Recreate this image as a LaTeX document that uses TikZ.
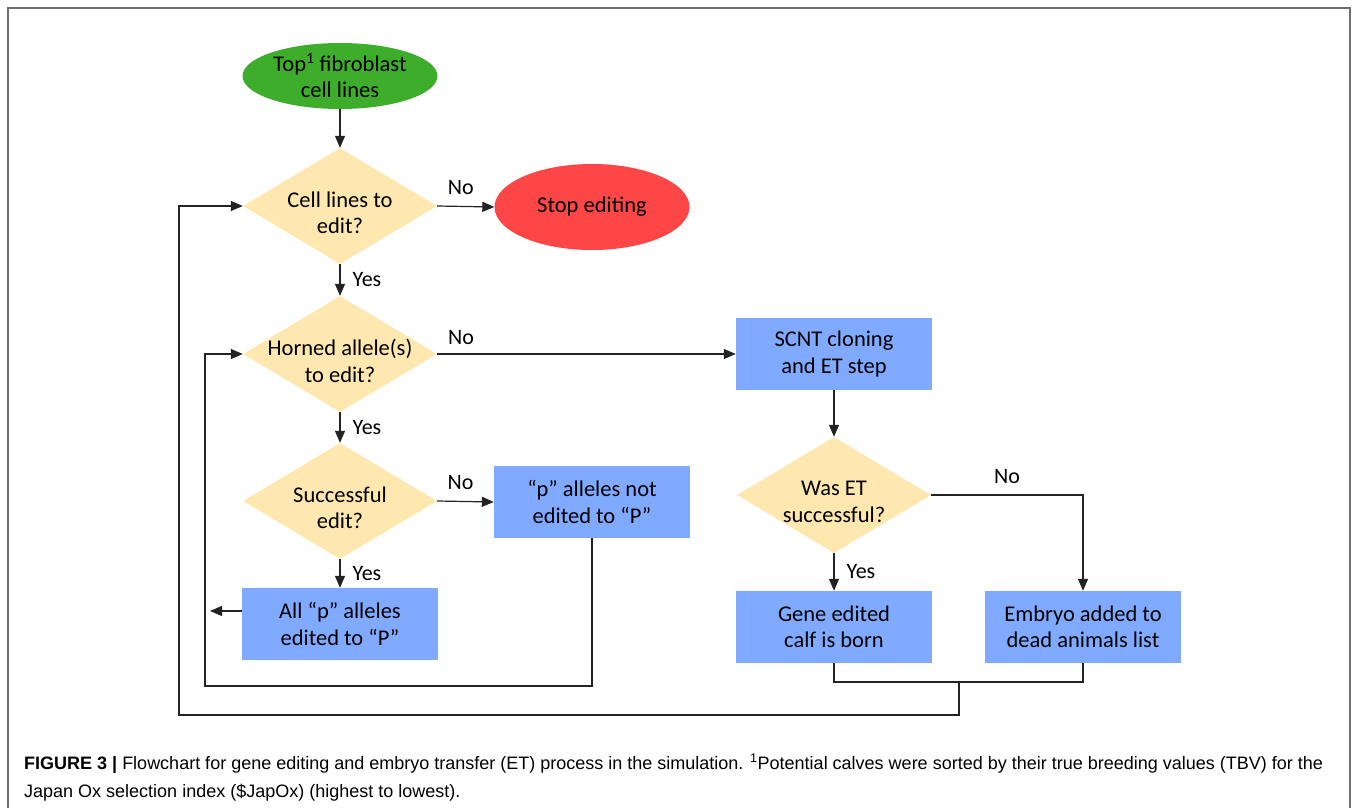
\documentclass[tikz,border=0pt]{standalone}
\usepackage{fontspec}
\setmainfont{Carlito}
\newfontfamily\capfont{Liberation Sans}
\usetikzlibrary{shapes.geometric,arrows.meta}
\definecolor{startgreen}{RGB}{62,173,44}
\definecolor{stopred}{RGB}{255,70,70}
\definecolor{decyellow}{RGB}{255,232,175}
\definecolor{procblue}{RGB}{128,170,255}
\definecolor{linegray}{RGB}{35,35,35}
\definecolor{framegray}{RGB}{110,110,110}
\begin{document}
\begin{tikzpicture}[x=1pt,y=-1pt,
  every node/.style={font=\fontsize{22.5}{26.5}\selectfont},
  term/.style={ellipse, minimum width=195pt, inner sep=0pt, align=center},
  decision/.style={diamond, fill=decyellow, minimum width=194pt, minimum height=116pt, inner sep=0pt},
  dtext/.style={align=center, inner sep=0pt},
  proc/.style={rectangle, fill=procblue, minimum width=196pt, minimum height=72pt, inner sep=0pt, align=center},
  conn/.style={draw=linegray, line width=1.2pt},
  arr/.style={conn, -{Triangle[length=12pt,width=10pt]}},
  lbl/.style={font=\fontsize{22}{26}\selectfont, inner sep=2pt},
  capt/.style={font=\capfont\fontsize{18}{20}\selectfont, inner sep=0pt, anchor=base west}
]
\useasboundingbox (0,0) rectangle (1357,808);
\draw[framegray, line width=1.2pt] (8,808) -- (8,8) -- (1350,8) -- (1350,808);

% nodes
\node[term, fill=startgreen, minimum height=66pt] (start) at (340,76) {Top\textsuperscript{1} fibroblast\\cell lines};
\node[decision] (d1) at (340,206) {};
\node[dtext] (t1) at (340,213) {Cell lines to\\edit?};
\node[term, fill=stopred, minimum height=86pt] (stop) at (592,207) {Stop editing};
\node[decision] (d2) at (340,354) {};
\node[dtext] (t2) at (340,361) {Horned allele(s)\\to edit?};
\node[decision] (d3) at (340,501) {};
\node[dtext] (t3) at (340,508) {Successful\\edit?};
\node[proc] (pnot) at (592,502) {“p” alleles not\\edited to “P”};
\node[proc] (all) at (340,624) {All “p” alleles\\edited to “P”};
\node[proc] (scnt) at (834,354) {SCNT cloning\\and ET step};
\node[decision] (d4) at (834,495) {};
\node[dtext] (t4) at (834,502) {Was ET\\successful?};
\node[proc] (gene) at (834,627) {Gene edited\\calf is born};
\node[proc] (emb) at (1083,627) {Embryo added to\\dead animals list};

% helper coordinates
\coordinate (jg) at (834,682);
\coordinate (je) at (1083,682);
\coordinate (jm) at (959,682);
\coordinate (c1) at (959,715);
\coordinate (c2) at (179,715);
\coordinate (l2) at (205,686);
\coordinate (aend) at (210,611);
\coordinate (astart) at (242,611);

% connectors
\draw[arr] (start) -- (d1);
\draw[arr] (d1.east) -- node[lbl, above=9pt, xshift=-5pt]{No} (stop.west);
\draw[arr] (d1.south) -- node[lbl, right=10pt]{Yes} (d2.north);
\draw[arr] (d2.east) -- node[lbl, pos=0.08, above=7pt]{No} (scnt.west);
\draw[arr] (d2.south) -- node[lbl, right=10pt]{Yes} (d3.north);
\draw[arr] (d3.east) -- node[lbl, above=9pt, xshift=-5pt]{No} (pnot.west);
\draw[arr] (d3.south) -- node[lbl, right=10pt]{Yes} (all.north);
\draw[arr] (astart) -- (aend);
\draw[arr] (scnt) -- (d4);
\draw[arr] (d4.east) -| node[lbl, pos=0.25, above=9pt]{No} (emb.north);
\draw[arr] (d4.south) -- node[lbl, right=10pt]{Yes} (gene.north);
\draw[conn] (gene.south) -- (jg) -- (je) -- (emb.south);
\draw[arr] (jm) -- (c1) -- (c2) |- (d1.west);
\draw[arr] (pnot.south) |- (l2) |- (d2.west);

% caption
\node[capt] (cap1) at (24,769) {\textbf{FIGURE 3 |} Flowchart for gene editing and embryo transfer (ET) process in the simulation. \textsuperscript{1}Potential calves were sorted by their true breeding values (TBV) for the};
\node[capt] (cap2) at (24,797) {Japan Ox selection index (\$JapOx) (highest to lowest).};
\end{tikzpicture}
\end{document}
